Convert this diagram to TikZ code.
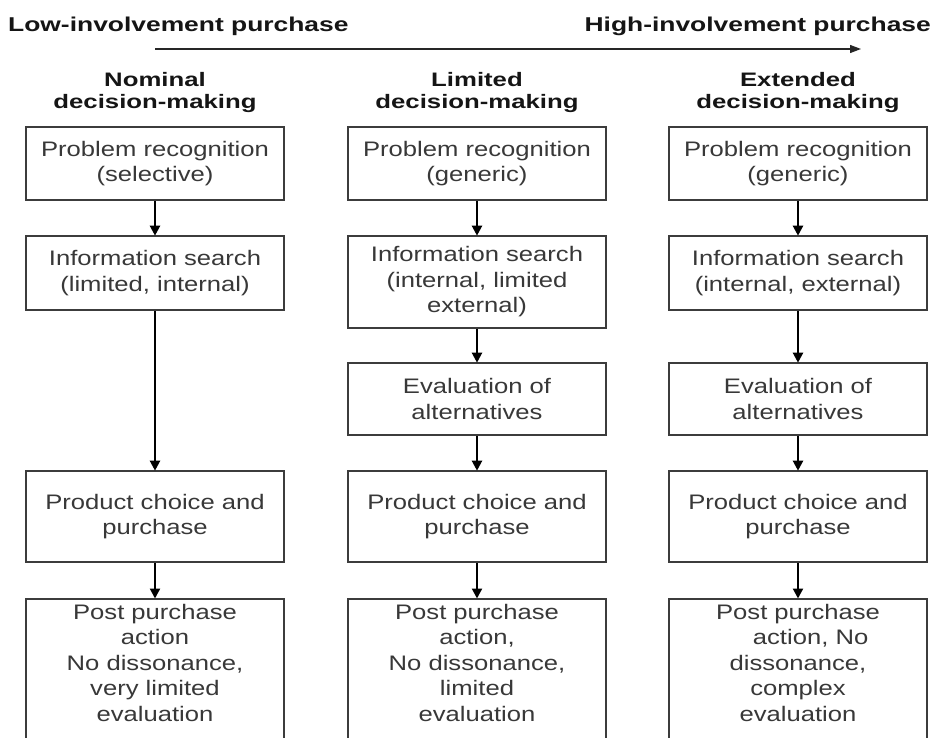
\documentclass[tikz,border=0pt]{standalone}
\usepackage{fontspec}
\setmainfont{Liberation Sans}[FakeStretch=1.22]
\newfontfamily\headfont{Liberation Sans}[FakeStretch=1.32]
\usetikzlibrary{arrows.meta}

\definecolor{boxline}{HTML}{3C3C3C}
\definecolor{boxtext}{HTML}{383838}
\definecolor{headtext}{HTML}{151515}

\tikzset{
  stagebox/.style={draw=boxline, line width=1.6pt, minimum width=258pt,
    inner sep=0pt, fill=white},
  stagetext/.style={align=center, text=boxtext, inner sep=0pt,
    font=\fontsize{21}{25.5}\selectfont},
  headlabel/.style={text=headtext, inner sep=0pt,
    font=\headfont\bfseries\fontsize{19.5}{22}\selectfont},
  scalelabel/.style={headlabel, font=\headfont\bfseries\fontsize{20}{22}\selectfont},
  flow/.style={draw=black, line width=2.2pt,
    -{Triangle[length=10pt,width=10pt]}, shorten >=-0.5pt},
  scale arrow/.style={draw=black!85, line width=1.2pt,
    -{Triangle[length=11pt,width=8pt]}}
}

\begin{document}
\begin{tikzpicture}[x=1pt,y=-1pt]
\useasboundingbox (0,0) rectangle (935,738);
\clip (0,0) rectangle (935,738);
\fill[white] (0,0) rectangle (935,738);

% involvement scale along the top
\node[scalelabel, anchor=base west] (low) at (8,32) {Low-involvement purchase};
\node[scalelabel, anchor=base east] (high) at (931,32) {High-involvement purchase};
\coordinate (scaleA) at (155,49);
\coordinate (scaleB) at (861,49);
\draw[scale arrow] (scaleA) -- (scaleB);

% column headings
\node[headlabel, align=center, anchor=north] (hN) at (155,72) {Nominal\\decision-making};
\node[headlabel, align=center, anchor=north] (hL) at (477,72) {Limited\\decision-making};
\node[headlabel, align=center, anchor=north] (hE) at (798,72) {Extended\\decision-making};

% ---- nominal decision-making
\node[stagebox, minimum height=73pt] (n1) at (155,163.5) {};
\node[stagetext] at (n1) {Problem recognition\\(selective)};
\node[stagebox, minimum height=74pt] (n2) at (155,273) {};
\node[stagetext] at (n2) {Information search\\(limited, internal)};
\node[stagebox, minimum height=91pt] (n4) at (155,516.5) {};
\node[stagetext] at (n4) {Product choice and\\purchase};
\node[stagebox, minimum height=170pt, anchor=north] (n5) at (155,598) {};
\node[stagetext, anchor=north] at ([yshift=-6pt]n5.north) {Post purchase\\action\\No dissonance,\\very limited\\evaluation};

% ---- limited decision-making
\node[stagebox, minimum height=73pt] (l1) at (477,163.5) {};
\node[stagetext] at (l1) {Problem recognition\\(generic)};
\node[stagebox, minimum height=92pt] (l2) at (477,282) {};
\node[stagetext] at (l2) {Information search\\(internal, limited\\external)};
\node[stagebox, minimum height=72pt] (l3) at (477,399) {};
\node[stagetext] at (l3) {Evaluation of\\alternatives};
\node[stagebox, minimum height=91pt] (l4) at (477,516.5) {};
\node[stagetext] at (l4) {Product choice and\\purchase};
\node[stagebox, minimum height=170pt, anchor=north] (l5) at (477,598) {};
\node[stagetext, anchor=north] at ([yshift=-6pt]l5.north) {Post purchase\\action,\\No dissonance,\\limited\\evaluation};

% ---- extended decision-making
\node[stagebox, minimum height=73pt] (e1) at (798,163.5) {};
\node[stagetext] at (e1) {Problem recognition\\(generic)};
\node[stagebox, minimum height=74pt] (e2) at (798,273) {};
\node[stagetext] at (e2) {Information search\\(internal, external)};
\node[stagebox, minimum height=72pt] (e3) at (798,399) {};
\node[stagetext] at (e3) {Evaluation of\\alternatives};
\node[stagebox, minimum height=91pt] (e4) at (798,516.5) {};
\node[stagetext] at (e4) {Product choice and\\purchase};
\node[stagebox, minimum height=170pt, anchor=north] (e5) at (798,598) {};
\node[stagetext, anchor=north] at ([yshift=-6pt]e5.north) {Post purchase\\\hspace*{1.2em}action, No\\dissonance,\\complex\\evaluation};

% connectors
\draw[flow] (n1) -- (n2);
\draw[flow] (n2) -- (n4);
\draw[flow] (n4) -- (n5);
\draw[flow] (l1) -- (l2);
\draw[flow] (l2) -- (l3);
\draw[flow] (l3) -- (l4);
\draw[flow] (l4) -- (l5);
\draw[flow] (e1) -- (e2);
\draw[flow] (e2) -- (e3);
\draw[flow] (e3) -- (e4);
\draw[flow] (e4) -- (e5);
\end{tikzpicture}
\end{document}
